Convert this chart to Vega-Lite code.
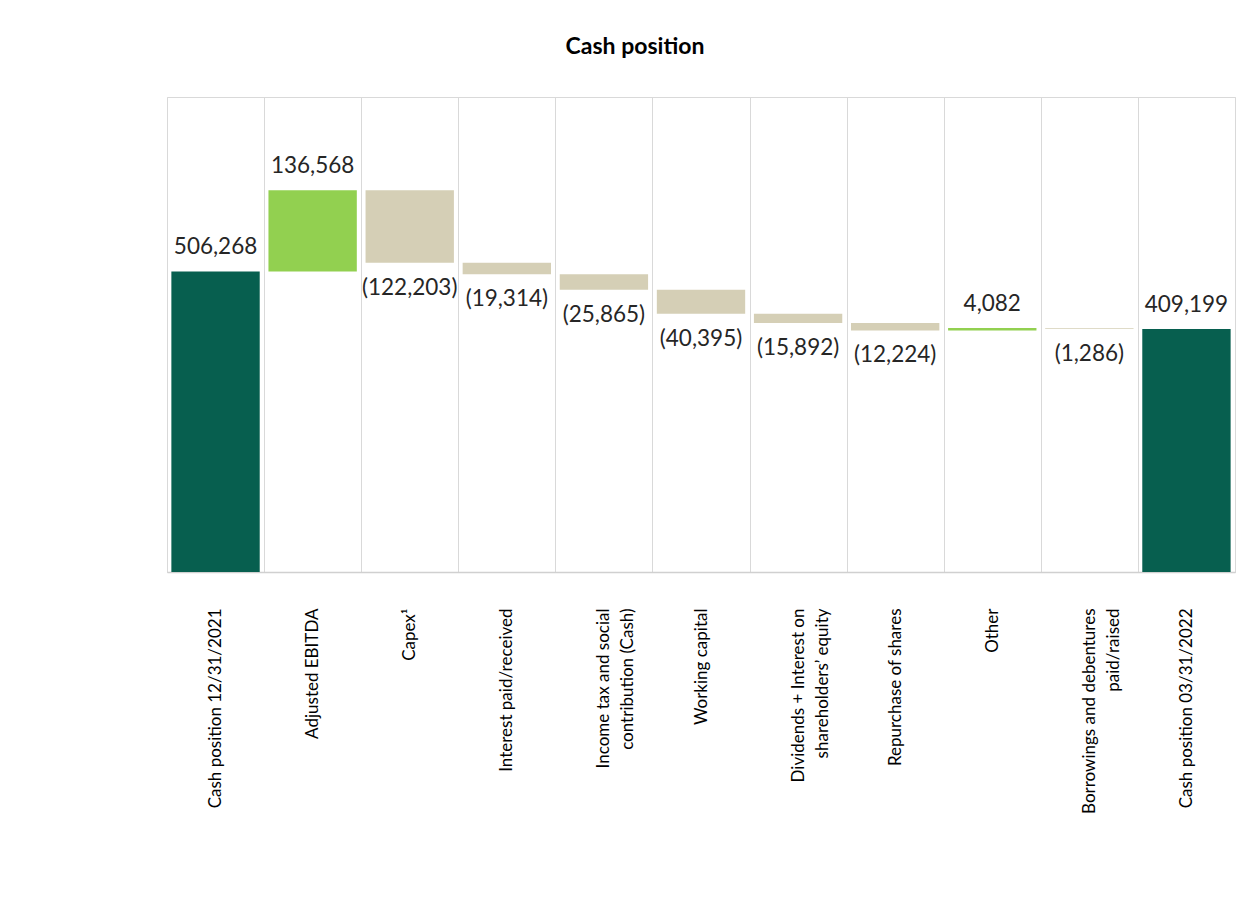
{
  "$schema": "https://vega.github.io/schema/vega-lite/v6.json",
  "autosize": {"type": "none"},
  "width": 1068,
  "height": 475,
  "padding": {"left": 167, "top": 97, "right": 18, "bottom": 334},
  "background": "white",
  "title": {
    "text": "Cash position",
    "font": "Lato",
    "fontSize": 23,
    "fontWeight": "bold",
    "color": "#000000",
    "anchor": "middle",
    "baseline": "alphabetic",
    "offset": 20,
    "dx": -66
  },
  "config": {
    "view": {"stroke": "#d9d9d9", "strokeWidth": 1},
    "font": "Lato"
  },
  "data": {
    "values": [
      {"cat": "Cash position 12/31/2021", "bottom": 0, "top": 506268, "label": "506,268", "kind": "total", "pos": "above"},
      {"cat": "Adjusted EBITDA", "bottom": 506268, "top": 642836, "label": "136,568", "kind": "inc", "pos": "above"},
      {"cat": "Capex¹", "bottom": 520633, "top": 642836, "label": "(122,203)", "kind": "dec", "pos": "below"},
      {"cat": "Interest paid/received", "bottom": 501319, "top": 520633, "label": "(19,314)", "kind": "dec", "pos": "below"},
      {"cat": "Income tax and social|contribution (Cash)", "bottom": 475454, "top": 501319, "label": "(25,865)", "kind": "dec", "pos": "below"},
      {"cat": "Working capital", "bottom": 435059, "top": 475454, "label": "(40,395)", "kind": "dec", "pos": "below"},
      {"cat": "Dividends + Interest on|shareholders’ equity", "bottom": 419167, "top": 435059, "label": "(15,892)", "kind": "dec", "pos": "below"},
      {"cat": "Repurchase of shares", "bottom": 406943, "top": 419167, "label": "(12,224)", "kind": "dec", "pos": "below"},
      {"cat": "Other", "bottom": 406943, "top": 411025, "label": "4,082", "kind": "inc", "pos": "above"},
      {"cat": "Borrowings and debentures|paid/raised", "bottom": 409739, "top": 411025, "label": "(1,286)", "kind": "dec", "pos": "below"},
      {"cat": "Cash position 03/31/2022", "bottom": 0, "top": 409199, "label": "409,199", "kind": "total", "pos": "above"}
    ]
  },
  "encoding": {
    "x": {
      "field": "cat",
      "type": "nominal",
      "sort": null,
      "title": null,
      "scale": {"paddingInner": 0, "paddingOuter": 0},
      "axis": {
        "grid": true,
        "tickBand": "extent",
        "gridColor": "#d9d9d9",
        "gridWidth": 1,
        "ticks": false,
        "domainColor": "#d0d0d0",
        "domainWidth": 1.5,
        "labelAngle": -90,
        "labelAlign": "right",
        "labelBaseline": "middle",
        "labelPadding": 36,
        "labelFont": "Lato",
        "labelFontSize": 17,
        "labelColor": "#000000",
        "labelLineHeight": 24,
        "labelLimit": 400,
        "labelExpr": "split(datum.label, '|')"
      }
    }
  },
  "layer": [
    {
      "mark": {"type": "bar", "width": {"band": 0.91}},
      "encoding": {
        "y": {"field": "top", "type": "quantitative", "scale": {"domain": [0, 800000], "nice": false}, "axis": null},
        "y2": {"field": "bottom"},
        "color": {
          "field": "kind",
          "type": "nominal",
          "scale": {"domain": ["total", "inc", "dec"], "range": ["#075F4F", "#92D050", "#D5CFB6"]},
          "legend": null
        }
      }
    },
    {
      "transform": [{"filter": "datum.pos == 'above'"}],
      "mark": {"type": "text", "baseline": "alphabetic", "dy": -17, "fontSize": 22.5, "font": "Lato", "color": "#262626"},
      "encoding": {
        "y": {"field": "top", "type": "quantitative", "scale": {"domain": [0, 800000], "nice": false}},
        "text": {"field": "label"}
      }
    },
    {
      "transform": [{"filter": "datum.pos == 'below'"}],
      "mark": {"type": "text", "baseline": "top", "dy": 14, "fontSize": 22.5, "font": "Lato", "color": "#262626"},
      "encoding": {
        "y": {"field": "bottom", "type": "quantitative", "scale": {"domain": [0, 800000], "nice": false}},
        "text": {"field": "label"}
      }
    }
  ]
}
